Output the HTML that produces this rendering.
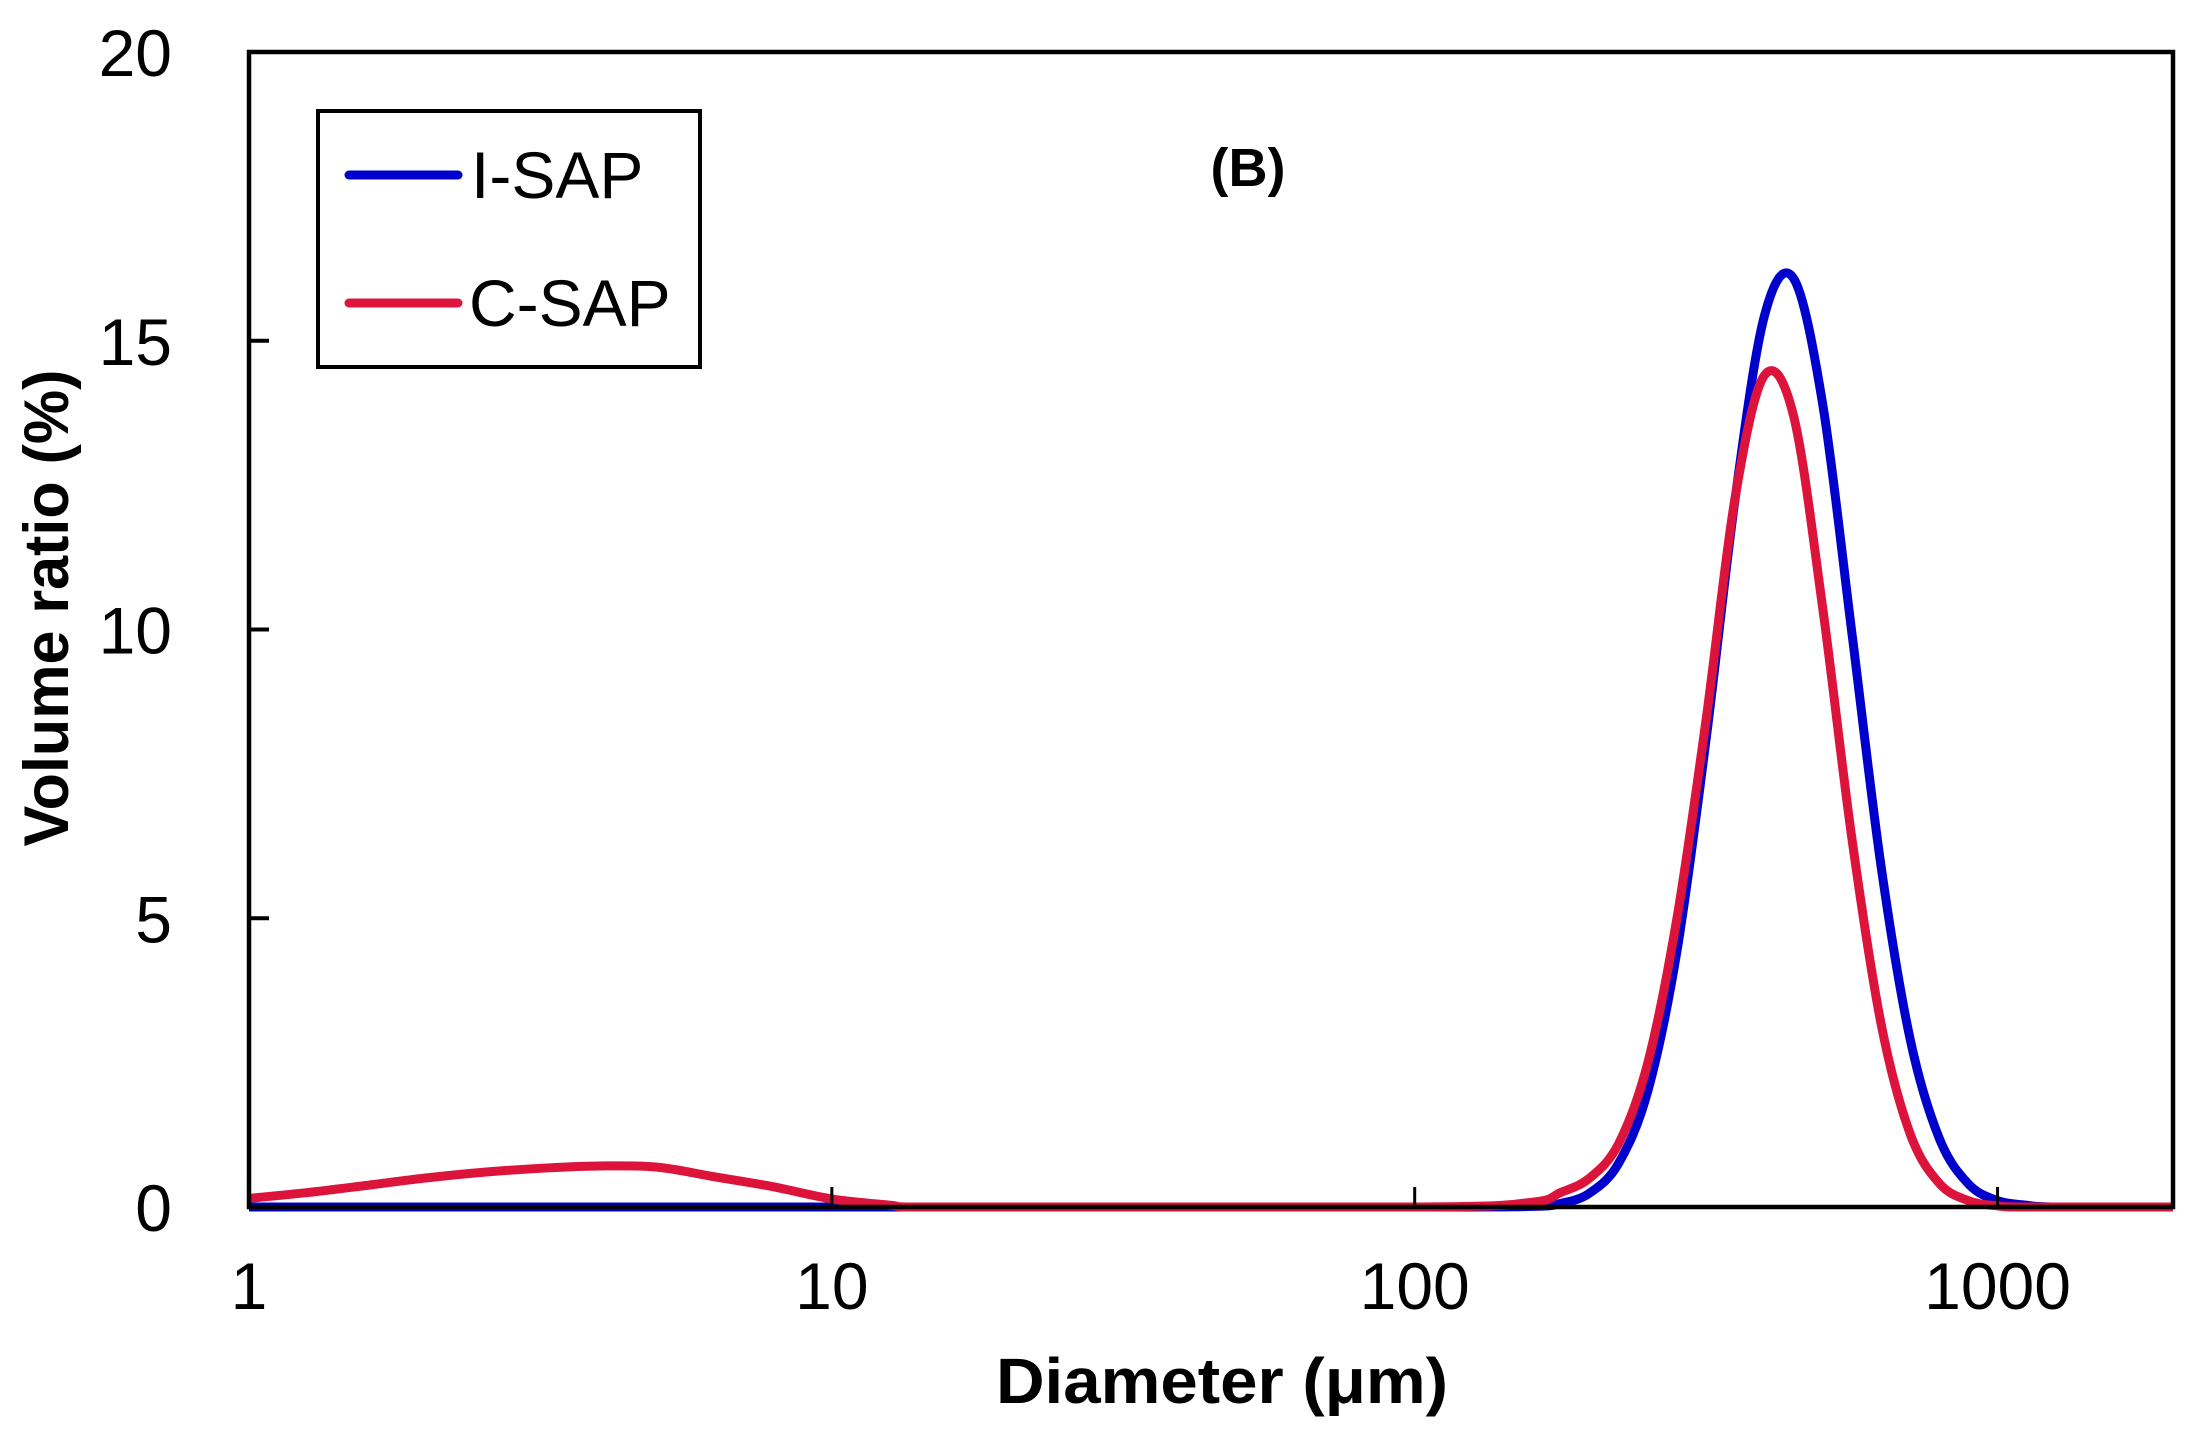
<!DOCTYPE html>
<html><head><meta charset="utf-8"><style>
html,body{margin:0;padding:0;background:#fff;}
svg{display:block;}
text{font-family:"Liberation Sans",Arial,sans-serif;fill:#000;}
</style></head><body>
<svg id="chart" width="2196" height="1431" viewBox="0 0 2196 1431" xmlns="http://www.w3.org/2000/svg">
<g id="curves"></g>
<rect x="249" y="52" width="1924" height="1155" fill="none" stroke="#000" stroke-width="4.5"/>
<g id="ticks"></g>
<g id="legend">
<rect x="318" y="111" width="382" height="256" fill="#fff" stroke="#000" stroke-width="4"/>
<line x1="349" y1="175" x2="458" y2="175" stroke="#0000CC" stroke-width="9" stroke-linecap="round"/>
<text x="471" y="198" font-size="66">I-SAP</text>
<line x1="349" y1="303" x2="458" y2="303" stroke="#DC143C" stroke-width="9" stroke-linecap="round"/>
<text x="469" y="326" font-size="66">C-SAP</text>
</g>
<text x="1248" y="186" font-size="54" font-weight="bold" text-anchor="middle">(B)</text>
<text x="1222" y="1403" font-size="64" font-weight="bold" text-anchor="middle" textLength="452" lengthAdjust="spacingAndGlyphs">Diameter (μm)</text>
<text transform="translate(68,608) rotate(-90)" font-size="63" font-weight="bold" text-anchor="middle" textLength="477" lengthAdjust="spacingAndGlyphs">Volume ratio (%)</text>
</svg>
<script>
const iSapDiameters = [1,100,158.5,177.8,199.5,223.9,251.2,281.8,316.2,354.8,398.1,446.7,501.2,562.3,631,707.9,794.3,891.3,1000,1122,1259,2000];
const iSapValues = [0,0,0.01,0.06,0.24,0.76,2.01,4.43,8.1,12.28,15.43,16.08,13.9,9.95,5.91,2.91,1.19,0.4,0.11,0.03,0,0];
const cSapDiameters = [1,1.26,1.58,2,2.51,3.16,3.98,5.01,6.31,7.94,10,12.6,13.7,100,158.5,177.8,199.5,223.9,251.2,281.8,316.2,354.8,398.1,446.7,501.2,562.3,631,707.9,794.3,891.3,1000,1122,2000];
const cSapValues = [0.15,0.25,0.37,0.5,0.6,0.67,0.71,0.69,0.52,0.35,0.14,0.03,0,0,0.08,0.25,0.5,1.1,2.5,5.0,8.44,12.3,14.4,13.7,10.37,6.39,3.18,1.27,0.41,0.11,0.02,0,0];
const xTicks = [1,10,100,1000];
const xTickLabels = ["1","10","100","1000"];
const yTicks = [0,5,10,15,20];
const yTickLabels = ["0","5","10","15","20"];

const X0=249, X1=2173, Y0=1207, Y1=52, XMIN=1, XMAX=2000, YMAX=20;
function xs(d){return X0+(Math.log10(d)-Math.log10(XMIN))/(Math.log10(XMAX)-Math.log10(XMIN))*(X1-X0);}
function ys(v){return Y0-v/YMAX*(Y0-Y1);}
const NS="http://www.w3.org/2000/svg";
function mk(tag){return document.createElementNS(NS,tag);}
function pathFor(ds,vals){
  const p=ds.map((d,i)=>[xs(d),ys(vals[i])]);
  let s="M"+p[0][0].toFixed(2)+","+p[0][1].toFixed(2);
  for(let i=0;i<p.length-1;i++){
    const a=p[Math.max(0,i-1)],b=p[i],c=p[i+1],e=p[Math.min(p.length-1,i+2)];
    const t=1/6;
    let c1x=b[0]+(c[0]-a[0])*t,c1y=b[1]+(c[1]-a[1])*t;
    let c2x=c[0]-(e[0]-b[0])*t,c2y=c[1]-(e[1]-b[1])*t;
    if(c1x>c[0])c1x=c[0]; if(c2x<b[0])c2x=b[0];
    c1y=Math.min(c1y,Y0);c2y=Math.min(c2y,Y0);
    s+=" C"+c1x.toFixed(2)+","+c1y.toFixed(2)+" "+c2x.toFixed(2)+","+c2y.toFixed(2)+" "+c[0].toFixed(2)+","+c[1].toFixed(2);
  }
  return s;
}
const g=document.getElementById('curves');
const p1=mk('path');


p1.setAttribute('d',pathFor(iSapDiameters,iSapValues));p1.setAttribute('fill','none');p1.setAttribute('stroke','#0000CC');p1.setAttribute('stroke-width','9');p1.setAttribute('stroke-linejoin','round');
g.appendChild(p1);
const p2=mk('path');


p2.setAttribute('d',pathFor(cSapDiameters,cSapValues));p2.setAttribute('fill','none');p2.setAttribute('stroke','#DC143C');p2.setAttribute('stroke-width','9');p2.setAttribute('stroke-linejoin','round');
g.appendChild(p2);

const tg=document.getElementById('ticks');
xTicks.forEach((t,i)=>{
  const x=xs(t);
  if(i>0){
    const l=mk('line');
    
    
    l.setAttribute('x1',x);l.setAttribute('x2',x);l.setAttribute('y1',Y0);l.setAttribute('y2',Y0-20);
    l.setAttribute('stroke','#000');l.setAttribute('stroke-width','3');
    tg.appendChild(l);
  }
  const tx=mk('text');
  
  
  tx.setAttribute('x',x);tx.setAttribute('y',1309);tx.setAttribute('font-size','66');tx.setAttribute('text-anchor','middle');
  tx.textContent=xTickLabels[i];
  tg.appendChild(tx);
});
yTicks.forEach((t,i)=>{
  const y=ys(t);
  if(t>0&&t<YMAX){
    const l=mk('line');
    
    
    l.setAttribute('x1',X0);l.setAttribute('x2',X0+20);l.setAttribute('y1',y);l.setAttribute('y2',y);
    l.setAttribute('stroke','#000');l.setAttribute('stroke-width','4');
    tg.appendChild(l);
  }
  const tx=mk('text');
  
  
  tx.setAttribute('x',172);tx.setAttribute('y',y+24);tx.setAttribute('font-size','66');tx.setAttribute('text-anchor','end');
  tx.textContent=yTickLabels[i];
  tg.appendChild(tx);
});
</script>
</body></html>
